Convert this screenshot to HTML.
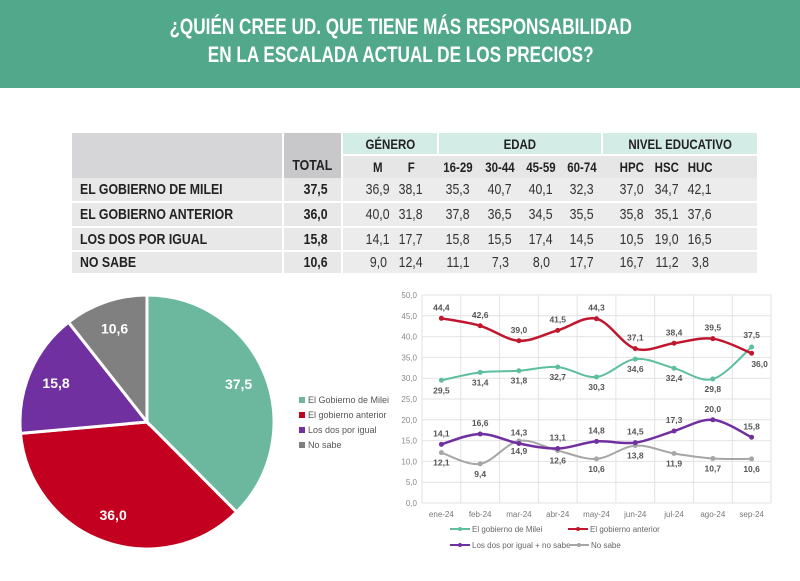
<!DOCTYPE html>
<html><head><meta charset="utf-8"><style>
body{margin:0;width:800px;height:581px;background:#fff;font-family:"Liberation Sans",sans-serif;overflow:hidden;position:relative}
#hdr{position:absolute;left:0;top:0;width:800px;height:88px;background:#52a88a;}
#hdr div{position:absolute;left:0;width:800px;text-align:center;color:#fff;font-weight:bold;font-size:22px;transform:scaleX(0.78);transform-origin:403px 0}
.c{position:absolute;box-sizing:border-box;display:flex;align-items:center;justify-content:center;font-size:13px;color:#222}
.c span{display:inline-block;transform:scaleX(0.82);white-space:nowrap}
.c.l span{transform-origin:left center}
svg{position:absolute;left:0;top:0}
</style></head><body>
<div id="hdr"><div style="top:14px">¿QUIÉN CREE UD. QUE TIENE MÁS RESPONSABILIDAD</div><div style="top:42px">EN LA ESCALADA ACTUAL DE LOS PRECIOS?</div></div>
<div id="tbl"></div>
<svg id="pie" width="800" height="581"></svg>
<svg id="line" width="800" height="581"></svg>
<script>
// table
const rowLabels=["EL GOBIERNO DE MILEI","EL GOBIERNO ANTERIOR","LOS DOS POR IGUAL","NO SABE"];
const colLabels=["TOTAL","M","F","16-29","30-44","45-59","60-74","HPC","HSC","HUC"];
const tableVals=[["37,5","36,9","38,1","35,3","40,7","40,1","32,3","37,0","34,7","42,1"],
["36,0","40,0","31,8","37,8","36,5","34,5","35,5","35,8","35,1","37,6"],
["15,8","14,1","17,7","15,8","15,5","17,4","14,5","10,5","19,0","16,5"],
["10,6","9,0","12,4","11,1","7,3","8,0","17,7","16,7","11,2","3,8"]];
const tb=document.getElementById('tbl');
function cell(x,y,w,h,bg,txt,cls,left){const d=document.createElement('div');d.className='c'+(left?' l':'');d.style.cssText=`left:${x}px;top:${y}px;width:${w}px;height:${h}px;background:${bg};`+(cls||'');
if(txt){const s=document.createElement('span');s.textContent=txt;d.appendChild(s);}tb.appendChild(d);return d;}
const colX=[316,378,411,458,500,541,582,632,667,700];
const rowY=[[178,23],[203,23],[228,22],[252,21]];
let d=cell(72,133,210,45,'#d6d6d8','');
d=cell(284,133,57,45,'#c8c8ca','TOTAL','align-items:flex-end;padding-bottom:4px;font-weight:bold;font-size:15px;');

[["GÉNERO",343,94],["EDAD",439,162],["NIVEL EDUCATIVO",603,154]].forEach(g=>{const e=cell(g[1],133,g[2],21,'#d3ece6',g[0],'font-weight:bold;font-size:14px;');
});
cell(343,156,414,22,'#e6e6e6','');
colLabels.slice(1).forEach((c,i)=>{const e=cell(colX[i+1]-22,156,44,22,'transparent',c,'font-weight:bold;font-size:14px;');
});
rowLabels.forEach((r,i)=>{const [y,h]=rowY[i];
let e=cell(72,y,210,h,'#e8e8e9',r,'justify-content:flex-start;padding-left:8px;font-weight:bold;font-size:15px;',true);

cell(284,y,57,h,'#e8e8e9','');cell(343,y,414,h,'#ececed','');
tableVals[i].forEach((v,j)=>{const c=cell(colX[j]-22,y,44,h,'transparent',v,j==0?'font-weight:bold;font-size:15px;':'font-size:15px;color:#333;');
});});

// pie
const pieLabels=["El Gobierno de Milei","El gobierno anterior","Los dos por igual","No sabe"];
const pieVals=[37.5,36.0,15.8,10.6];
const pieColors=["#6bb89e","#c3001f","#7030a0","#808080"];
const NS="http://www.w3.org/2000/svg";
const pie=document.getElementById('pie');
function el(p,t,a){const e=document.createElementNS(NS,t);for(const k in a)e.setAttribute(k,a[k]);p.appendChild(e);return e;}
const cx=147,cy=422,R=127;const tot=pieVals.reduce((a,b)=>a+b,0);let ang=0;
pieVals.forEach((v,i)=>{const a0=ang,a1=ang+v/tot*2*Math.PI;ang=a1;
const p=(a,r)=>[cx+r*Math.sin(a),cy-r*Math.cos(a)];const [x0,y0]=p(a0,R),[x1,y1]=p(a1,R);
const s=el(pie,'path',{d:`M${cx},${cy}L${x0},${y0}A${R},${R} 0 ${a1-a0>Math.PI?1:0} 1 ${x1},${y1}Z`,fill:pieColors[i],stroke:'#fff','stroke-width':3});

const [lx,ly]=p((a0+a1)/2,R*0.78);
const t=el(pie,'text',{x:lx,y:ly+5,'text-anchor':'middle','font-size':14,'font-weight':'bold',fill:'#fff'});t.textContent=v.toFixed(1).replace('.',',');

el(pie,'rect',{x:299,y:397+i*15,width:6,height:6,fill:pieColors[i]});
const lt=el(pie,'text',{x:308,y:403+i*15,'font-size':9,fill:'#555'});lt.textContent=pieLabels[i];
});

// line chart
const months=["ene-24","feb-24","mar-24","abr-24","may-24","jun-24","jul-24","ago-24","sep-24"];
const milei=[29.5,31.4,31.8,32.7,30.3,34.6,32.4,29.8,37.5];
const anterior=[44.4,42.6,39.0,41.5,44.3,37.1,38.4,39.5,36.0];
const dos=[14.1,16.6,14.3,13.1,14.8,14.5,17.3,20.0,15.8];
const nosabe=[12.1,9.4,14.9,12.6,10.6,13.8,11.9,10.7,10.6];
const yTicks=[0,5,10,15,20,25,30,35,40,45,50];
const L=document.getElementById('line');
const X0=422,X1=771,Y0=503,Y1=295;const step=(X1-X0)/months.length;
const xs=i=>X0+step*(i+0.5), ys=v=>Y0-(v/50)*(Y0-Y1);
yTicks.forEach(t=>{el(L,'line',{x1:X0,x2:X1,y1:ys(t),y2:ys(t),stroke:'#e2e2e2','stroke-width':1});
const tx=el(L,'text',{x:X0-5,y:ys(t)+3,'text-anchor':'end','font-size':8,fill:'#888'});tx.textContent=t.toFixed(1).replace('.',',');
});
for(let i=0;i<=months.length;i++)el(L,'line',{x1:X0+step*i,x2:X0+step*i,y1:Y1,y2:Y0,stroke:'#e2e2e2'});
months.forEach((m,i)=>{const t=el(L,'text',{x:xs(i),y:Y0+14,'text-anchor':'middle','font-size':8,fill:'#777'});t.textContent=m;
});
function smooth(pts){let d=`M${pts[0][0]},${pts[0][1]}`;for(let i=0;i<pts.length-1;i++){const p0=pts[i-1]||pts[i],p1=pts[i],p2=pts[i+1],p3=pts[i+2]||p2;
d+=`C${p1[0]+(p2[0]-p0[0])/6},${p1[1]+(p2[1]-p0[1])/6} ${p2[0]-(p3[0]-p1[0])/6},${p2[1]-(p3[1]-p1[1])/6} ${p2[0]},${p2[1]}`;}return d;}
const series=[[milei,"#5dbf9c",2,'milei',13],[anterior,"#c0172e",2.5,'anterior',-8],[nosabe,"#a6a6a6",2,'no-sabe',13],[dos,"#7030a0",2.5,'dos',-8]];
series.forEach(([vals,col,w,nm,off])=>{const pts=vals.map((v,i)=>[xs(i),ys(v)]);
const p=el(L,'path',{d:smooth(pts),fill:'none',stroke:col,'stroke-width':w});

vals.forEach((v,i)=>{const c=el(L,'circle',{cx:xs(i),cy:ys(v),r:2.5,fill:col});

let o=off,dx=0;if(nm=='milei'&&i==8){o=-9;}if(nm=='anterior'&&i==8){o=14;dx=8;}
const t=el(L,'text',{x:xs(i)+dx,y:ys(v)+o,'text-anchor':'middle','font-size':8.5,'font-weight':'bold',fill:'#555'});t.textContent=v.toFixed(1).replace('.',',');
});});
const leg=[["El gobierno de Milei","#5dbf9c",470,532],["El gobierno anterior","#c0172e",588,532],["Los dos por igual + no sabe","#7030a0",470,548],["No sabe","#a6a6a6",589,548]];
leg.forEach(([n,c,x,y])=>{el(L,'line',{x1:x-20,x2:x,y1:y-3,y2:y-3,stroke:c,'stroke-width':2});el(L,'circle',{cx:x-10,cy:y-3,r:2,fill:c});
const t=el(L,'text',{x:x+2,y:y,'font-size':8,fill:'#666'});t.textContent=n;
});
</script>
</body></html>
